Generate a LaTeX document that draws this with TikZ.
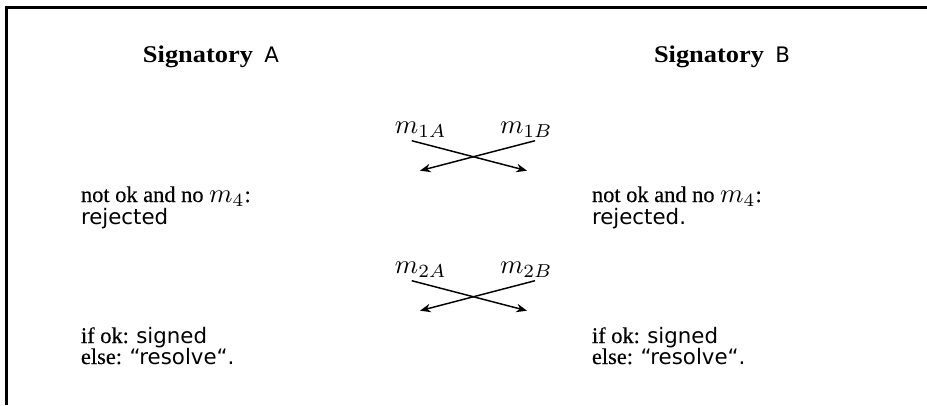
\documentclass[tikz,border=0pt]{standalone}
\usepackage{fontspec}
\setmainfont{Liberation Serif}[FakeBold=0.3]
\newfontfamily\sansf{DejaVu Sans}
\newfontfamily\sigf{Liberation Serif}[FakeStretch=1.1]
\usetikzlibrary{arrows.meta}
\newcommand\txs{\fontsize{8.4}{10}\selectfont}
\newcommand\sftxt{\fontsize{8}{9.6}\selectfont\sansf}
\newcommand\mth[1]{{\fontsize{10}{12}\selectfont$#1$}}
\newcommand\sighead[1]{{\fontsize{9}{10.8}\selectfont\sigf\bfseries Signatory}\hspace{2.2pt} {\sftxt #1}}
\begin{document}
\begin{tikzpicture}[x=0.375pt,y=-0.375pt,
  lbl/.style={anchor=base west,inner sep=0pt,outer sep=0pt,font=\txs},
  mlab/.style={anchor=base west,inner sep=0pt,outer sep=0pt},
  msg/.style={line width=0.55pt,-{Stealth[length=4pt,width=3.2pt]}},
  frame/.style={line width=1.1pt}]
\useasboundingbox (0,0) rectangle (927,405);
\draw[frame] (6.5,405) -- (6.5,7.5) -- (927,7.5);
% headers
\node[lbl] (sa) at (143,62.5) {\sighead{A}};
\node[lbl] (sb) at (654,62.5) {\sighead{B}};
% first exchange
\node[mlab] (m1a) at (395,133.3) {$m_{1A}$};
\node[mlab] (m1b) at (500,133.3) {$m_{1B}$};
\coordinate (a1s) at (411.7,140.7);
\coordinate (a1e) at (527,170.7);
\coordinate (b1s) at (535,140.7);
\coordinate (b1e) at (420,170.7);
\draw[msg] (a1s) -- (a1e);
\draw[msg] (b1s) -- (b1e);
\node[lbl] (na) at (81,202) {not ok and no \mth{m_4}:};
\node[lbl] (ra) at (81,224) {\sftxt rejected};
\node[lbl] (nb) at (592,202) {not ok and no \mth{m_4}:};
\node[lbl] (rb) at (592,224) {\sftxt rejected.};
% second exchange
\node[mlab] (m2a) at (395,273.3) {$m_{2A}$};
\node[mlab] (m2b) at (500,273.3) {$m_{2B}$};
\coordinate (a2s) at (411.7,280.7);
\coordinate (a2e) at (527,310.7);
\coordinate (b2s) at (535,280.7);
\coordinate (b2e) at (420,310.7);
\draw[msg] (a2s) -- (a2e);
\draw[msg] (b2s) -- (b2e);
\node[lbl] (ia) at (81,343) {if ok: {\sftxt signed}};
\node[lbl] (ea) at (81,364) {else: {\sftxt “resolve“.}};
\node[lbl] (ib) at (592,343) {if ok: {\sftxt signed}};
\node[lbl] (eb) at (592,364) {else: {\sftxt “resolve“.}};
\end{tikzpicture}
\end{document}
